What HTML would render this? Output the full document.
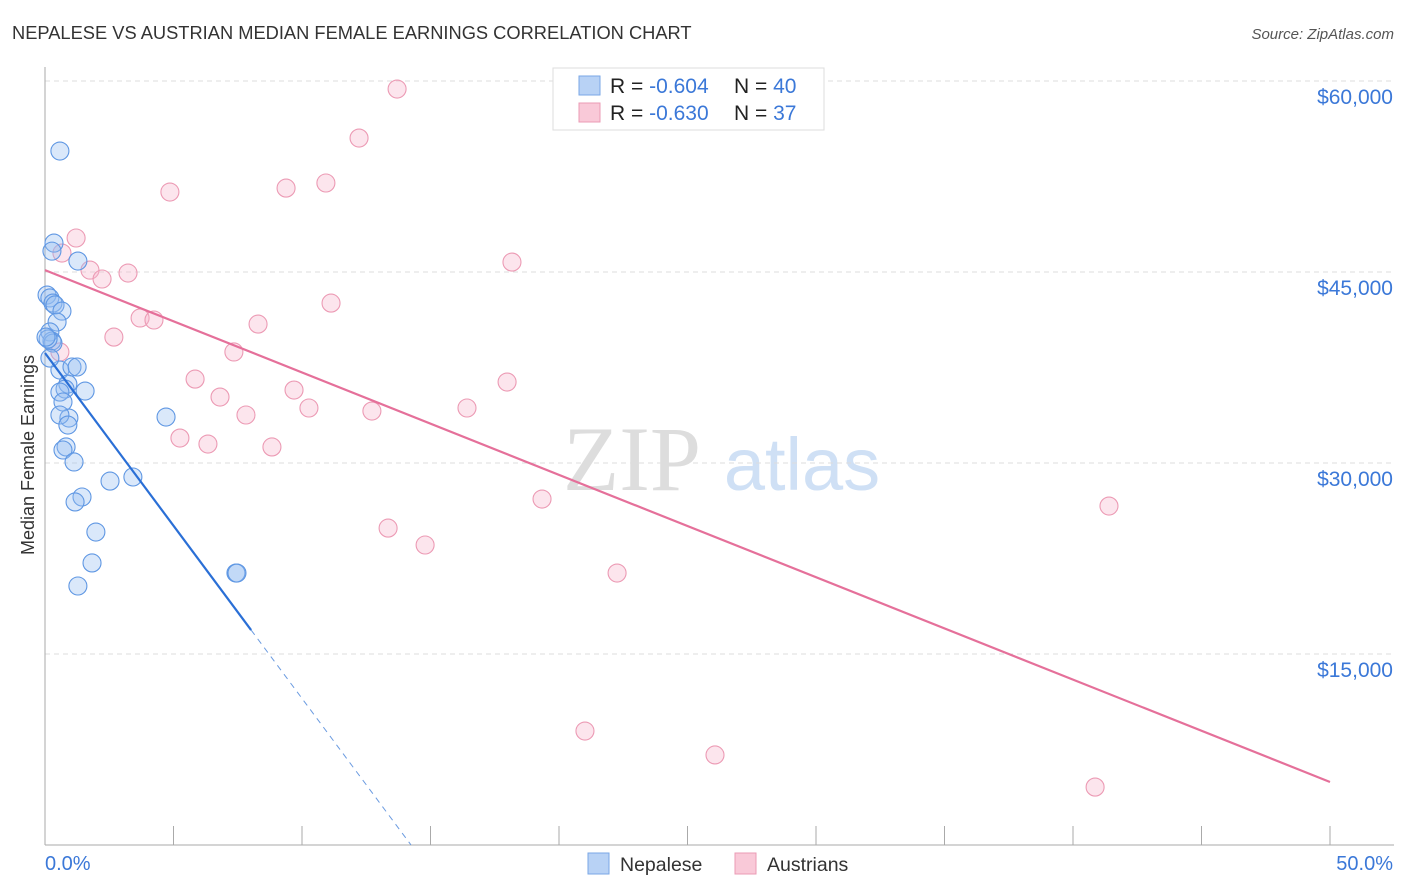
<!DOCTYPE html>
<html><head><meta charset="utf-8"><style>
body{margin:0;background:#fff;font-family:"Liberation Sans",sans-serif}
svg{display:block}
</style></head><body>
<svg id="chart" width="1406" height="892">
<text x="12" y="39" font-size="18.3" fill="#333">NEPALESE VS AUSTRIAN MEDIAN FEMALE EARNINGS CORRELATION CHART</text>
<text x="1394" y="39" font-size="15" fill="#555" font-style="italic" text-anchor="end">Source: ZipAtlas.com</text>
<g>
<text x="632" y="490" font-size="92" font-family="Liberation Serif,serif" fill="#ddd" text-anchor="middle">ZIP</text>
<text x="802" y="490" font-size="74" fill="#cfe0f5" text-anchor="middle">atlas</text>
</g>
<g id="grid"></g>
<g id="axes"></g>
<g id="marks"></g>
<text transform="translate(34,455) rotate(-90)" font-size="18" fill="#333" text-anchor="middle">Median Female Earnings</text>
<g>
<rect x="553" y="68" width="271" height="62" fill="#fff" stroke="#ddd"/>
<rect x="579" y="76" width="21" height="19" fill="#b8d2f5" stroke="#7aa7e6"/>
<rect x="579" y="103" width="21" height="19" fill="#f9c9d8" stroke="#eb9bb5"/>
<text x="610" y="93" font-size="21" fill="#222">R = <tspan fill="#3b78d8">-0.604</tspan><tspan x="734">N = </tspan><tspan fill="#3b78d8">40</tspan></text>
<text x="610" y="120" font-size="21" fill="#222">R = <tspan fill="#3b78d8">-0.630</tspan><tspan x="734">N = </tspan><tspan fill="#3b78d8"> 37</tspan></text>
</g>
<g>
<rect x="588" y="853" width="21" height="21" fill="#b8d2f5" stroke="#7aa7e6"/>
<text x="620" y="871" font-size="19.5" fill="#333">Nepalese</text>
<rect x="735" y="853" width="21" height="21" fill="#f9c9d8" stroke="#eb9bb5"/>
<text x="767" y="871" font-size="19.5" fill="#333">Austrians</text>
</g>
</svg>
<script>
const yTicks=[15000,30000,45000,60000];
const yTickLabels=["$15,000","$30,000","$45,000","$60,000"];
const xEnds=[0,50];
const xEndLabels=["0.0%","50.0%"];
const nepX=[0.58,0.35,0.27,1.28,0.08,0.19,0.31,0.39,0.66,0.47,0.19,0.27,0.31,0.58,1.05,1.25,0.89,0.78,1.56,0.58,0.70,0.93,0.58,0.89,0.82,0.70,1.13,2.53,3.42,1.44,1.17,4.71,1.98,1.83,1.28,7.43,7.47,0.12,0.19,0.04];
const nepY=[54500,47270,46640,45860,43190,42960,42560,42410,41930,41070,40290,39580,39420,37300,37540,37540,36200,35810,35650,35570,34790,33530,33770,32980,31260,31020,30080,28580,28900,27330,26940,33610,24580,22150,20340,21360,21360,39740,38240,39890];
const ausX=[13.70,12.22,4.86,9.38,10.93,1.21,0.66,1.75,2.22,3.23,18.17,11.13,3.70,4.24,8.29,2.68,0.58,7.35,5.84,9.69,6.81,10.27,16.42,7.82,12.72,17.98,5.25,6.34,8.83,19.34,13.35,14.79,22.26,21.01,26.07,40.86,41.40];
const ausY=[59370,55520,51280,51590,51990,47670,46490,45150,44450,44920,45780,42560,41390,41230,40910,39890,38720,38720,36590,35730,35180,34320,34320,33770,34080,36360,31960,31490,31260,27170,24890,23560,21360,8950,7070,4550,26620];
const nepTrend=[38640,-2713,8.02,14.24];
const ausTrend=[45150,-804];
const NS="http://www.w3.org/2000/svg";
const X=v=>45+v*25.7, Y=v=>845-v/15000*191;
function mk(p,t,a){const e=document.createElementNS(NS,t);for(const k in a)e.setAttribute(k,a[k]);p.appendChild(e);return e;}
const grid=document.getElementById('grid'),axes=document.getElementById('axes'),marks=document.getElementById('marks');
yTicks.forEach((v,i)=>{
 const l=mk(grid,'line',{x1:45,x2:1394,y1:Y(v),y2:Y(v),stroke:'#ddd','stroke-dasharray':'5,4'});
 
 
 const t=mk(axes,'text',{x:1393,y:Y(v)+23,'font-size':21,fill:'#3b78d8','text-anchor':'end'});t.textContent=yTickLabels[i];
 
 
});
const ya=mk(axes,'line',{x1:45,x2:45,y1:67,y2:845,stroke:'#aaa'});


const xa=mk(axes,'line',{x1:45,x2:1394,y1:845,y2:845,stroke:'#aaa'});


for(let p=0;p<=50;p+=5){const t=mk(axes,'line',{x1:X(p),x2:X(p),y1:826,y2:845,stroke:'#aaa'});
 
 }
xEnds.forEach((v,i)=>{const t=mk(axes,'text',{x:i?1393:45,y:870,'font-size':20,fill:'#3b78d8','text-anchor':i?'end':'start'});t.textContent=xEndLabels[i];
 
 });
ausX.forEach((x,i)=>{const c=mk(marks,'circle',{cx:X(x),cy:Y(ausY[i]),r:9,fill:'rgba(246,180,202,0.35)',stroke:'#ec9ab4','stroke-width':1.1});
 
 });
nepX.forEach((x,i)=>{const c=mk(marks,'circle',{cx:X(x),cy:Y(nepY[i]),r:9,fill:'rgba(150,190,240,0.35)',stroke:'#5f97e3','stroke-width':1.1});
 
 });
const at=mk(marks,'line',{x1:X(0),y1:Y(ausTrend[0]),x2:X(50),y2:Y(ausTrend[0]+ausTrend[1]*50),stroke:'#e5709a','stroke-width':2.2});


const nf=p=>nepTrend[0]+nepTrend[1]*p;
const nt=mk(marks,'line',{x1:X(0),y1:Y(nf(0)),x2:X(nepTrend[2]),y2:Y(nf(nepTrend[2])),stroke:'#2a6fd6','stroke-width':2.2});


const nd=mk(marks,'line',{x1:X(nepTrend[2]),y1:Y(nf(nepTrend[2])),x2:X(nepTrend[3]),y2:Y(nf(nepTrend[3])),stroke:'#6b9be0','stroke-width':1,'stroke-dasharray':'6,5'});


</script>
</body></html>
